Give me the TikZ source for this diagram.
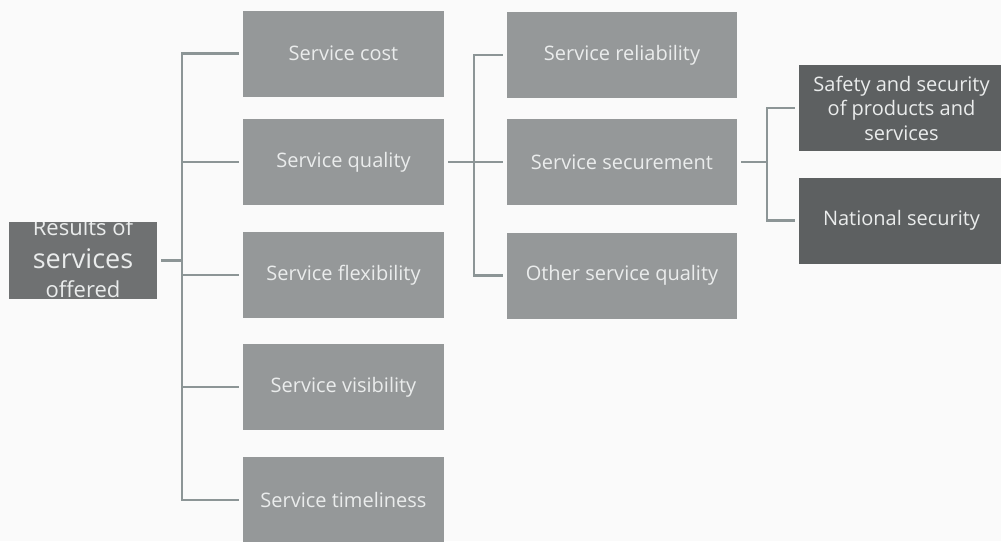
\documentclass[tikz,border=0pt]{standalone}
\usepackage{fontspec}
\setmainfont{Open Sans}
\definecolor{bgpaper}{RGB}{250,250,250}
\definecolor{boxmid}{RGB}{149,152,153}
\definecolor{boxdark}{RGB}{93,96,97}
\definecolor{boxroot}{RGB}{111,113,114}
\definecolor{linkgrey}{RGB}{140,149,150}
\definecolor{txtlight}{RGB}{234,236,236}
\tikzset{
  box/.style={rectangle, fill=boxmid, text=txtlight, outer sep=4pt,
    minimum width=201pt, minimum height=86pt, inner sep=0pt,
    font=\fontsize{20}{24.5}\selectfont, align=center},
  boxwide/.style={box, minimum width=230pt},
  boxdk/.style={box, fill=boxdark, minimum width=205pt},
  rootbox/.style={rectangle, fill=boxroot, outer sep=4pt,
    minimum width=148pt, minimum height=77pt, inner sep=0pt},
  roottxt/.style={text=txtlight, anchor=base, inner sep=0pt},
  link/.style={draw=linkgrey, line width=2.6pt},
}
\begin{document}
\begin{tikzpicture}[x=1pt, y=-1pt]
  \fill[bgpaper] (0,0) rectangle (1001,541);
  \useasboundingbox (0,0) rectangle (1001,541);

  % root
  \node[rootbox] (res) at (83,260.5) {};
  \begin{scope}
    \clip (9,222) rectangle (157,299);
    \node[roottxt, font=\fontsize{22}{26}\selectfont] (res1) at (83,235) {Results of};
    \node[roottxt, font=\fontsize{27}{30}\selectfont] (res2) at (83,268) {services};
    \node[roottxt, font=\fontsize{22}{26}\selectfont] (res3) at (83,297) {offered};
  \end{scope}

  % second level
  \node[box] (cost) at (343.5,53.5) {Service cost};
  \node[box] (qual) at (343.5,162) {Service quality};
  \node[box] (flex) at (343.5,275) {Service flexibility};
  \node[box] (vis)  at (343.5,387) {Service visibility};
  \node[box] (time) at (343.5,500) {Service timeliness};

  % third level
  \node[boxwide] (rel) at (622,55)  {Service reliability};
  \node[boxwide] (sec) at (622,162) {Service securement};
  \node[boxwide] (oth) at (622,275.5) {Other service quality};

  % fourth level
  \node[boxdk] (safe) at (901.5,108) {Safety and security\\of products and\\services};
  \node[boxdk] (nat)  at (901.5,220.5) {National security};

  % connectors
  \coordinate (b1) at (182,260.5);
  \coordinate (b2) at (474,162);
  \coordinate (b3) at (767,162);

  \draw[link] (res.east) -- (b1);
  \draw[link] (b1) |- (cost.west);
  \draw[link] (b1) |- (qual.west);
  \draw[link] (b1) |- (flex.west);
  \draw[link] (b1) |- (vis.west);
  \draw[link] (b1) |- (time.west);

  \draw[link] (qual.east) -- (sec.west);
  \draw[link] (b2) |- (rel.west);
  \draw[link] (b2) |- (oth.west);

  \draw[link] (sec.east) -- (b3);
  \draw[link] (b3) |- (safe.west);
  \draw[link] (b3) |- (nat.west);
\end{tikzpicture}
\end{document}
